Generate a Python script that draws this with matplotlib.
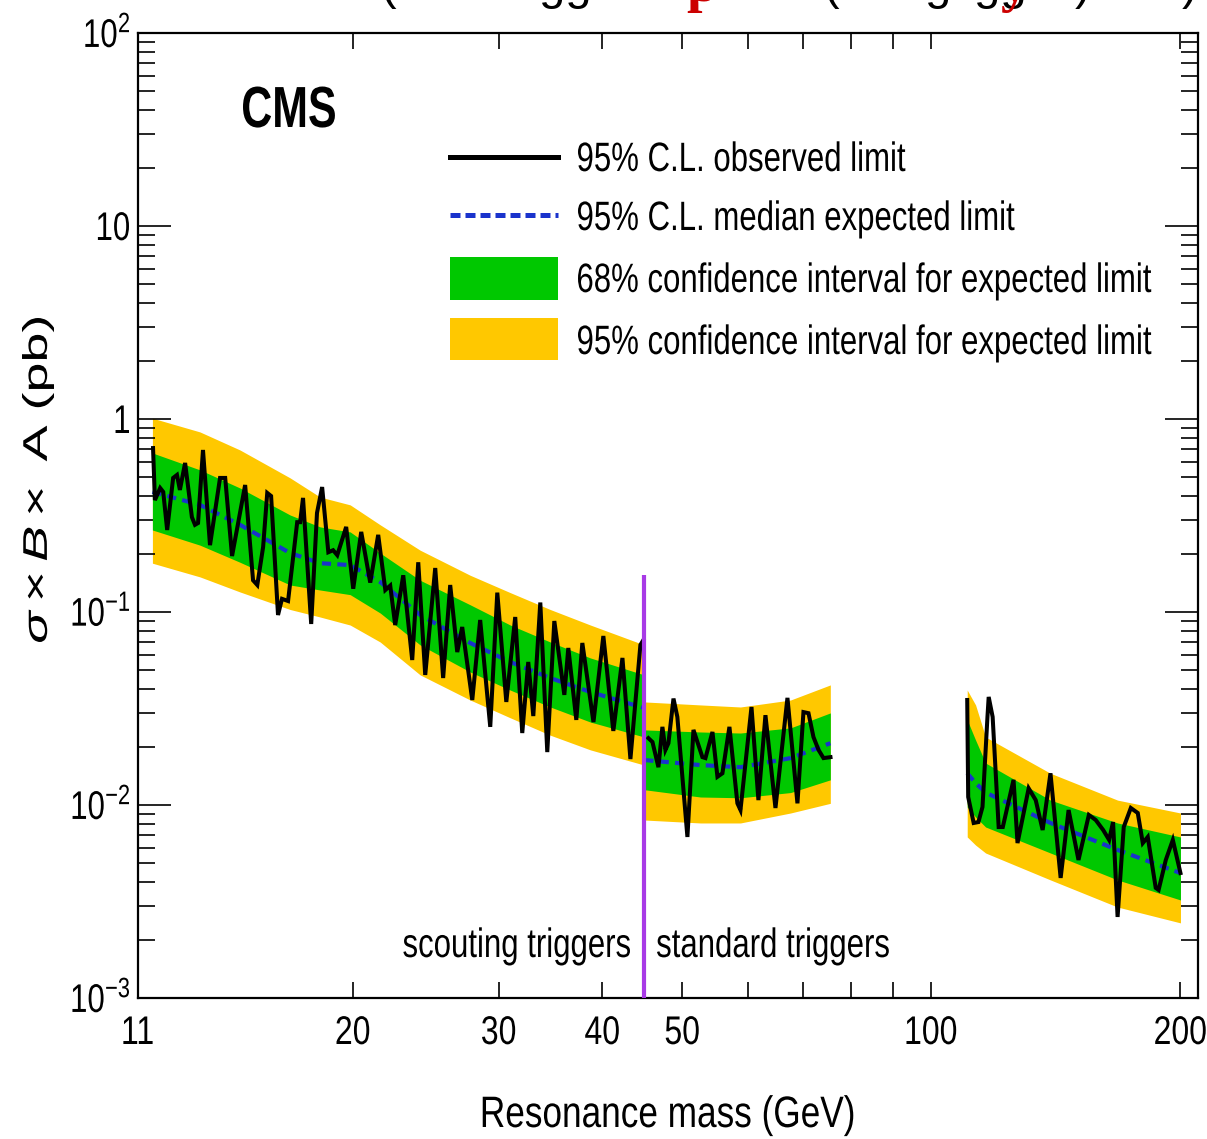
import matplotlib
matplotlib.use("Agg")
import matplotlib.pyplot as plt
from matplotlib import font_manager
from matplotlib.ticker import FixedLocator, NullFormatter
from matplotlib.patches import Rectangle, PathPatch
from matplotlib.lines import Line2D
from matplotlib.textpath import TextPath
from matplotlib.transforms import Affine2D

# expected limit and bands, scouting triggers (11-45 GeV)
mass_scout = [11.45, 13.07, 14.61, 16.80, 18.26, 19.85, 21.58, 24.12, 27.72, 30.99, 34.64, 38.73, 45.0]
exp_scout = [0.419, 0.359, 0.283, 0.202, 0.179, 0.175, 0.143, 0.0965, 0.0691, 0.0551, 0.0455, 0.0385, 0.0318]
s1lo_scout = [0.266, 0.222, 0.181, 0.138, 0.130, 0.123, 0.0988, 0.0675, 0.0489, 0.0394, 0.0322, 0.0269, 0.0225]
s1hi_scout = [0.667, 0.545, 0.439, 0.318, 0.276, 0.260, 0.202, 0.146, 0.109, 0.0856, 0.0699, 0.0578, 0.0472]
s2lo_scout = [0.179, 0.152, 0.127, 0.103, 0.0942, 0.0856, 0.0699, 0.0472, 0.0350, 0.0283, 0.0230, 0.0193, 0.0161]
s2hi_scout = [1.01, 0.857, 0.691, 0.495, 0.394, 0.359, 0.283, 0.209, 0.155, 0.126, 0.103, 0.0856, 0.0675]

# standard triggers, low mass window (45-75 GeV)
mass_std = [45.0, 52.6, 58.8, 67.6, 75.5]
exp_std = [0.0171, 0.0161, 0.0157, 0.0175, 0.0209]
s1lo_std = [0.0120, 0.0110, 0.0109, 0.0116, 0.0135]
s1hi_std = [0.0245, 0.0239, 0.0236, 0.0251, 0.0300]
s2lo_std = [0.00836, 0.00807, 0.00807, 0.00909, 0.0102]
s2hi_std = [0.0342, 0.0330, 0.0322, 0.0350, 0.0419]

# standard triggers, high mass window (110-200 GeV)
mass_high = [110.5, 113.1, 116.3, 139.3, 167.9, 200.0]
exp_high = [0.0146, 0.0130, 0.0116, 0.00807, 0.00585, 0.00444]
s1lo_high = [0.00977, 0.00867, 0.00769, 0.00564, 0.00409, 0.00322]
s1hi_high = [0.0276, 0.0217, 0.0165, 0.0106, 0.00807, 0.00683]
s2lo_high = [0.00683, 0.00620, 0.00564, 0.00409, 0.00296, 0.00245]
s2hi_high = [0.0394, 0.0330, 0.0225, 0.0146, 0.0106, 0.00909]

# observed limits
obs_mass_scout = [11.47, 11.53, 11.70, 11.80, 11.93, 12.13, 12.26, 12.36, 12.54, 12.78,
                  12.89, 13.00, 13.18, 13.44, 13.82, 14.02, 14.29, 14.82, 15.15, 15.33,
                  15.58, 15.76, 15.93, 16.24, 16.42, 16.70, 17.13, 17.27, 17.41, 17.81,
                  18.10, 18.36, 18.68, 18.93, 19.15, 19.63, 20.02, 20.47, 20.99, 21.46,
                  21.89, 22.19, 22.50, 23.01, 23.59, 23.99, 24.46, 25.15, 25.71, 26.22,
                  26.74, 27.11, 27.88, 28.50, 29.31, 29.89, 30.65, 31.42, 32.04, 32.58,
                  33.04, 33.69, 34.35, 35.03, 36.02, 36.42, 37.24, 37.87, 39.06, 40.15,
                  41.28, 42.34, 43.29, 44.51, 44.88]
obs_scout = [0.707, 0.380, 0.439, 0.419, 0.266, 0.495, 0.513, 0.429, 0.592, 0.310,
             0.283, 0.289, 0.691, 0.222, 0.495, 0.495, 0.195, 0.455, 0.146, 0.138,
             0.217, 0.414, 0.399, 0.0965, 0.117, 0.114, 0.292, 0.292, 0.390, 0.0867,
             0.326, 0.444, 0.204, 0.209, 0.197, 0.276, 0.132, 0.260, 0.142, 0.251,
             0.130, 0.137, 0.0856, 0.155, 0.0564, 0.181, 0.0472, 0.169, 0.0455, 0.138,
             0.0620, 0.0836, 0.0350, 0.0909, 0.0254, 0.126, 0.0342, 0.0942, 0.0236, 0.0551,
             0.0289, 0.112, 0.0188, 0.0898, 0.0372, 0.0651, 0.0276, 0.0691, 0.0269, 0.0751,
             0.0242, 0.0578, 0.0173, 0.0675, 0.0716]

obs_mass_std = [45.51, 46.03, 46.80, 47.32, 47.72, 48.12, 48.80, 49.33, 50.73, 51.59,
                52.89, 53.34, 54.39, 55.15, 55.92, 57.02, 58.30, 58.80, 60.63, 61.81,
                63.03, 64.81, 67.01, 68.90, 70.06, 71.05, 72.04, 73.06, 74.08, 75.53]
obs_std = [0.0222, 0.0212, 0.0157, 0.0254, 0.0193, 0.0209, 0.0356, 0.0286, 0.00683, 0.0245,
           0.0177, 0.0175, 0.0239, 0.0140, 0.0146, 0.0254, 0.0102, 0.00942, 0.0322, 0.0106,
           0.0292, 0.00965, 0.0359, 0.0102, 0.0303, 0.0299, 0.0225, 0.0193, 0.0175, 0.0177]

obs_mass_high = [110.5, 110.8, 112.5, 114.0, 115.3, 116.9, 117.3, 118.6, 120.6, 122.0,
                 125.7, 127.1, 131.1, 133.7, 136.3, 139.3, 143.3, 146.5, 150.6, 155.0,
                 158.0, 161.3, 164.0, 165.8, 167.9, 170.8, 174.2, 177.6, 180.1, 182.6,
                 186.7, 188.2, 192.0, 195.8, 200.0]
obs_high = [0.0350, 0.0110, 0.00807, 0.00816, 0.00977, 0.0286, 0.0363, 0.0286, 0.00769, 0.00769,
            0.0135, 0.00635, 0.0122, 0.0106, 0.00742, 0.0146, 0.00419, 0.00942, 0.00519, 0.00888,
            0.00836, 0.00742, 0.00659, 0.00816, 0.00263, 0.00769, 0.00965, 0.00909, 0.00635, 0.00683,
            0.00372, 0.00363, 0.00519, 0.00659, 0.00444]

trigger_boundary = 45.0
boundary_top = 0.155

xtick_vals = [11, 20, 30, 40, 50, 100, 200]
xtick_labels = ['11', '20', '30', '40', '50', '100', '200']
ytick_vals = [1e-3, 1e-2, 1e-1, 1, 10, 100]
ytick_labels = [r'$10^{-3}$', r'$10^{-2}$', r'$10^{-1}$', '1', '10', r'$10^{2}$']

legend_labels = ['95% C.L. observed limit',
                 '95% C.L. median expected limit',
                 '68% confidence interval for expected limit',
                 '95% confidence interval for expected limit']

YELLOW = '#ffc800'
GREEN = '#00c800'
BLUE = '#1a33cc'
PURPLE = '#a83ae6'

plt.rcParams['font.family'] = ['Liberation Sans', 'DejaVu Sans']
plt.rcParams['mathtext.fontset'] = 'custom'
plt.rcParams['mathtext.rm'] = 'Liberation Sans'
plt.rcParams['mathtext.it'] = 'Liberation Sans:italic'
plt.rcParams['mathtext.bf'] = 'Liberation Sans:bold'

W, H = 1207, 1139
fig = plt.figure(figsize=(W / 100, H / 100), dpi=100)
ax = fig.add_axes([138 / W, 141 / H, 1060 / W, 965 / H])
ax.set_xscale('log')
ax.set_yscale('log')


def squeezed(s, x, y, em, sx, ha='left', weight='normal', color='black', rotate=False):
    """Draw text as a path, narrowed by sx; x, y in pixels from the top-left, y = baseline."""
    tp = TextPath((0, 0), s, size=em,
                  prop=font_manager.FontProperties(family='Liberation Sans', weight=weight))
    bb = tp.get_extents()
    ref = {'left': bb.x0, 'center': (bb.x0 + bb.x1) / 2, 'right': bb.x1}[ha]
    tr = Affine2D().translate(-ref, 0).scale(sx, 1)
    if rotate:
        tr = tr.rotate_deg(90)
    tr = tr.translate(x, H - y)
    fig.add_artist(PathPatch(tp, transform=tr, facecolor=color, lw=0))


segments = [
    (mass_scout, exp_scout, s1lo_scout, s1hi_scout, s2lo_scout, s2hi_scout),
    (mass_std, exp_std, s1lo_std, s1hi_std, s2lo_std, s2hi_std),
    (mass_high, exp_high, s1lo_high, s1hi_high, s2lo_high, s2hi_high),
]
for m, e, g_lo, g_hi, y_lo, y_hi in segments:
    ax.fill_between(m, y_lo, y_hi, color=YELLOW, lw=0, zorder=1)
    ax.fill_between(m, g_lo, g_hi, color=GREEN, lw=0, zorder=2)
    ax.plot(m, e, color=BLUE, lw=3, ls=(0, (2.2, 1.5)), zorder=3)

for m, v in [(obs_mass_scout, obs_scout), (obs_mass_std, obs_std), (obs_mass_high, obs_high)]:
    ax.plot(m, v, color='black', lw=2.9, solid_joinstyle='miter', zorder=4)

ax.vlines(trigger_boundary, 1e-3, boundary_top, color=PURPLE, lw=3, zorder=5)

ax.set_xlim(11, 210)
ax.set_ylim(1e-3, 1e2)

# ticks: ROOT style, inside, on all four sides; labels drawn separately
ax.xaxis.set_major_locator(FixedLocator(xtick_vals))
ax.xaxis.set_minor_locator(FixedLocator([60, 70, 80, 90]))
ax.xaxis.set_minor_formatter(NullFormatter())
ax.yaxis.set_major_locator(FixedLocator(ytick_vals))
ax.yaxis.set_minor_locator(FixedLocator([k * 10.0 ** p for p in range(-3, 2) for k in range(2, 10)]))
ax.yaxis.set_minor_formatter(NullFormatter())

ax.tick_params(axis='x', which='both', direction='in', top=True, length=11.5, width=1.2,
               labelbottom=False)
ax.tick_params(axis='y', which='major', direction='in', right=True, length=24, width=1.2,
               labelleft=False)
ax.tick_params(axis='y', which='minor', direction='in', right=True, length=12, width=1.2)
for t in ax.xaxis.get_major_ticks():
    if t.get_loc() == 100:
        t.tick1line.set_markersize(21)
        t.tick2line.set_markersize(21)
for sp in ax.spines.values():
    sp.set_linewidth(1.6)

fig.canvas.draw()
for v, lab in zip(xtick_vals, xtick_labels):
    px = ax.transData.transform((v, 1e-3))[0]
    squeezed(lab, px, 1044, 40, 0.8, ha='center')
for v, lab in zip(ytick_vals, ytick_labels):
    py = H - ax.transData.transform((11, v))[1]
    squeezed(lab, 129, py + 14, 40, 0.78, ha='right')

# CMS label and legend
squeezed('CMS', 243, 127, 58, 0.74, weight='bold')

x0, x1 = 450 / W, 558 / W
fig.add_artist(Line2D([x0, x1], [1 - 157 / H] * 2, color='black', lw=3.6, transform=fig.transFigure))
fig.add_artist(Line2D([x0, x1], [1 - 215 / H] * 2, color=BLUE, lw=3.6, ls=(0, (2.0, 1.0)),
                      transform=fig.transFigure))
fig.add_artist(Rectangle((x0, 1 - 300 / H), x1 - x0, 43 / H, color=GREEN, lw=0,
                         transform=fig.transFigure))
fig.add_artist(Rectangle((x0, 1 - 360 / H), x1 - x0, 42 / H, color=YELLOW, lw=0,
                         transform=fig.transFigure))
for label, base in zip(legend_labels, [171, 230, 292, 354]):
    squeezed(label, 578, base, 41, 0.76)

squeezed('scouting triggers', 630, 957, 41, 0.76, ha='right')
squeezed('standard triggers', 657, 957, 41, 0.76)

squeezed('Resonance mass (GeV)', 668, 1127, 44, 0.8, ha='center')

# y title, squeezed across its width
ytitle = TextPath((0, 0), r'$\sigma \times B \times$ A (pb)', size=40,
                  prop=font_manager.FontProperties(family='Liberation Sans'))
bb = ytitle.get_extents()
length, thick = 324.0, 32.0
tr = (Affine2D().translate(-bb.x0, -bb.y0)
      .scale(length / bb.width, thick / bb.height)
      .rotate_deg(90)
      .translate(54, H - 642))
fig.add_artist(PathPatch(ytitle, transform=tr, facecolor='black', lw=0))

# header line cut off by the top edge
for s, xp in [('(', 388), ('gg', 565), ('/', 627), ('(', 831), ('g', 938), ('gg', 1000),
              (')', 1083), (')', 1190)]:
    fig.text(xp / W, 1 + 1 / H, s, fontsize=34, color='black', ha='center', va='baseline')
for s, xp in [('p', 702), ('y', 1014)]:
    fig.text(xp / W, 1 - 1 / H, s, fontsize=40, color='#cc0000', fontweight='bold',
             family='Liberation Serif', ha='center', va='baseline')

fig.savefig('out.png', dpi=100)
